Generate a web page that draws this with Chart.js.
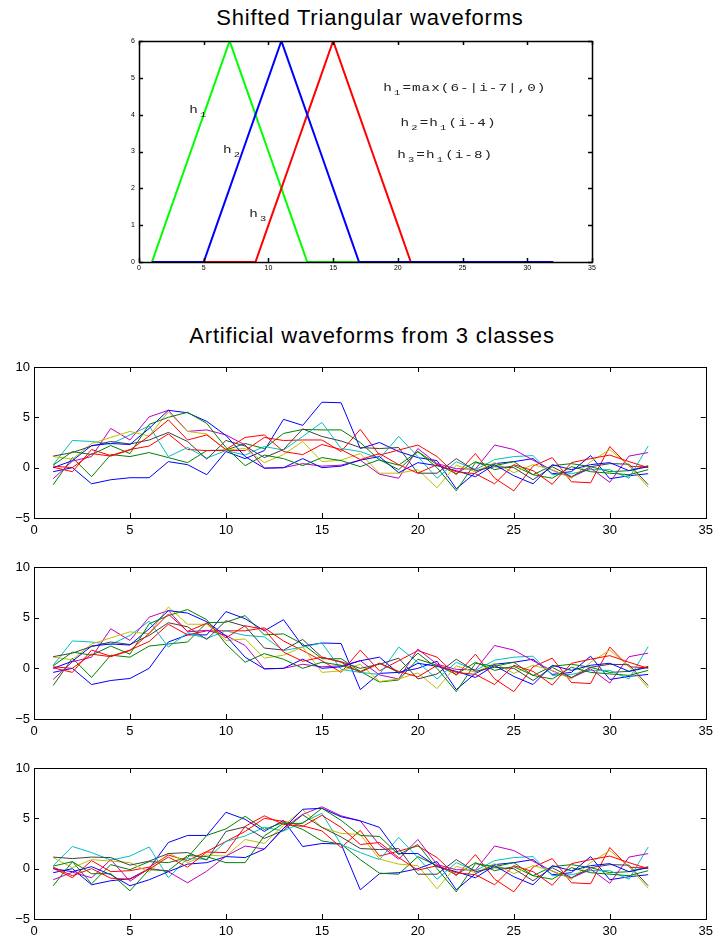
<!DOCTYPE html>
<html>
<head>
<meta charset="utf-8">
<script src="https://cdn.jsdelivr.net/npm/chart.js@4.4.0/dist/chart.umd.min.js"></script>
<style>
body{margin:0;background:#fff;width:715px;height:944px;position:relative;overflow:hidden;font-family:"Liberation Sans",Arial,sans-serif;}
canvas{position:absolute;left:0;}
.title{position:absolute;left:0;text-align:center;font-size:22px;line-height:26px;letter-spacing:0.8px;color:#000;white-space:nowrap;}
</style>
</head>
<body>
<div class="title" style="top:5px;width:740px;">Shifted Triangular waveforms</div>
<div class="title" style="top:323px;width:744px;">Artificial waveforms from 3 classes</div>
<canvas id="tri"></canvas>
<canvas id="p1"></canvas>
<canvas id="p2"></canvas>
<canvas id="p3"></canvas>
<script>
// sample index i = 1..32
var xs = [1,2,3,4,5,6,7,8,9,10,11,12,13,14,15,16,17,18,19,20,21,22,23,24,25,26,27,28,29,30,31,32];

// the three triangular waveforms
var h1 = [0,1,2,3,4,5,6,5,4,3,2,1,0,0,0,0,0,0,0,0,0,0,0,0,0,0,0,0,0,0,0,0];
var h2 = [0,0,0,0,0,1,2,3,4,5,6,5,4,3,2,1,0,0,0,0,0,0,0,0,0,0,0,0,0,0,0,0];
var h3 = [0,0,0,0,0,0,0,0,0,1,2,3,4,5,6,5,4,3,2,1,0,0,0,0,0,0,0,0,0,0,0,0];

// class 1
var c1w1  = [-0.4,0.0,-1.6,-1.2,-1.0,-1.0,0.6,0.3,-0.7,1.6,0.9,1.7,4.8,4.2,6.5,6.45,1.9,2.5,1.6,1.0,0.7,-2.1,-0.5,0.4,0.6,0.9,-0.6,-0.4,1.2,-1.1,-0.8,-0.6];
var c1w2  = [-1.7,1.0,-0.9,1.3,1.1,1.5,1.0,0.5,1.7,1.75,2.4,1.9,3.4,3.8,3.75,3.75,2.5,0.75,0.25,1.6,0.3,-0.6,0.6,-0.2,0.2,-0.7,0.2,0.4,0.1,-0.4,-0.3,0.2];
var c1w3  = [0.05,-0.4,1.8,1.2,1.8,2.15,3.35,1.8,1.7,1.7,1.7,3.0,2.7,2.75,2.75,1.6,3.8,1.25,1.75,2.25,1.1,-0.7,1.4,-1.05,-2.3,0.15,1.0,-1.4,-1.5,2.1,0.15,0.05];
var c1w4  = [0.3,2.7,2.6,2.35,3.25,4.15,1.1,2.0,0.95,1.7,1.25,2.1,1.75,3.1,4.5,1.9,1.6,0.9,3.1,1.1,-1.05,0.6,-0.2,0.8,1.1,1.2,-0.7,-0.6,-0.2,-0.2,-1.05,2.15];
var c1w5  = [-1.1,0.65,1.1,3.9,2.75,5.05,5.7,3.6,3.75,3.25,2.25,-0.05,0.0,0.4,0.15,0.25,0.75,-0.65,-1.05,1.9,0.4,-0.1,-0.15,2.25,1.8,0.75,-0.25,-0.95,-0.05,-1.45,1.15,1.5];
var c1w6  = [1.1,0.85,2.4,3.0,3.6,3.15,5.55,3.6,3.35,1.75,1.9,0.5,1.3,2.6,0.6,0.75,1.4,-0.55,-0.55,-0.2,-2.0,0.25,-0.4,0.5,-0.5,0.3,-0.2,-1.05,0.6,1.8,0.2,-1.95];
var c1w7  = [1.15,1.5,2.15,2.6,2.35,2.75,3.5,2.6,0.85,2.7,2.15,1.0,1.8,3.85,3.1,2.65,2.0,1.9,2.0,-0.55,-0.55,0.9,-0.3,0.1,0.0,-1.2,0.1,-0.9,0.1,0.4,0.35,-1.7];
var c1w8  = [0.0,0.7,2.2,2.4,2.3,3.9,5.7,5.45,4.6,3.2,1.1,-0.05,0.0,0.9,0.0,0.15,0.75,1.1,-0.5,0.5,0.2,-0.3,-0.9,0.3,-0.8,-1.6,0.3,-0.2,0.3,0.5,-0.3,0.1];
var c1w9  = [0.25,1.6,1.3,2.2,1.4,4.3,5.0,5.5,4.4,2.0,0.2,1.25,0.9,0.2,1.0,0.7,0.1,0.8,-0.2,1.6,0.0,-2.3,0.5,0.2,0.6,-0.7,-1.05,0.1,-0.4,-0.55,-0.7,-0.2];
var c1w10 = [0.15,0.0,1.4,1.15,1.75,3.15,4.75,2.75,3.25,1.8,3.0,3.25,1.6,1.3,2.3,1.8,0.8,1.4,0.3,-0.55,0.3,-0.4,-0.6,-1.6,0.3,-0.3,-1.65,0.5,0.9,1.25,0.6,0.0];

// class 2
var c2w1  = [-0.4,0.0,-1.6,-1.2,-1.0,0.0,2.6,3.3,3.3,5.6,4.9,3.7,4.8,2.2,2.5,2.45,-2.1,-0.5,-0.4,0.0,0.7,-2.1,-0.5,0.4,0.6,0.9,-0.6,-0.4,1.2,-1.1,-0.8,-0.6];
var c2w2  = [-1.7,1.0,-0.9,1.3,1.1,2.2,2.4,2.6,4.5,4.55,5.2,3.3,3.4,2.4,0.95,0.95,-0.3,-1.35,-1.15,0.9,0.3,-0.6,0.6,-0.2,0.2,-0.7,0.2,0.4,0.1,-0.4,-0.3,0.2];
var c2w3  = [0.05,-0.4,1.8,1.2,1.8,2.65,4.35,3.3,3.7,3.7,3.7,4.0,2.7,1.75,0.75,-0.4,1.8,-0.25,0.75,1.75,1.1,-0.7,1.4,-1.05,-2.3,0.15,1.0,-1.4,-1.5,2.1,0.15,0.05];
var c2w4  = [0.3,2.7,2.6,2.35,3.25,4.65,2.1,3.5,2.95,3.7,3.25,3.1,1.75,2.1,2.5,-0.1,-0.4,-0.6,2.1,0.6,-1.05,0.6,-0.2,0.8,1.1,1.2,-0.7,-0.6,-0.2,-0.2,-1.05,2.15];
var c2w5  = [-1.1,0.65,1.1,3.9,2.75,5.05,5.7,3.6,3.75,3.25,2.25,-0.05,0.0,0.4,0.15,0.25,0.75,-0.65,-1.05,1.9,0.4,-0.1,-0.15,2.25,1.8,0.75,-0.25,-0.95,-0.05,-1.45,1.15,1.5];
var c2w6  = [1.1,0.85,2.4,3.0,3.6,3.4,6.05,4.35,4.35,2.75,2.9,1.0,1.3,2.1,-0.4,-0.25,0.4,-1.3,-1.05,-0.45,-2.0,0.25,-0.4,0.5,-0.5,0.3,-0.2,-1.05,0.6,1.8,0.2,-1.95];
var c2w7  = [1.15,1.5,2.15,2.6,2.35,3.25,4.5,4.1,2.85,4.7,4.15,2.0,1.8,2.85,1.1,0.65,0.0,0.4,1.0,-1.05,-0.55,0.9,-0.3,0.1,0.0,-1.2,0.1,-0.9,0.1,0.4,0.35,-1.7];
var c2w8  = [0.0,0.7,2.2,2.4,2.3,3.9,5.7,5.45,4.6,3.2,1.1,-0.05,0.0,0.9,0.0,0.15,0.75,1.1,-0.5,0.5,0.2,-0.3,-0.9,0.3,-0.8,-1.6,0.3,-0.2,0.3,0.5,-0.3,0.1];
var c2w9  = [0.25,1.6,1.3,2.2,1.4,4.4,5.2,5.8,4.8,2.4,0.6,1.45,0.9,0.0,0.6,0.3,-0.3,0.5,-0.4,1.5,0.0,-2.3,0.5,0.2,0.6,-0.7,-1.05,0.1,-0.4,-0.55,-0.7,-0.2];
var c2w10 = [0.15,0.0,1.4,1.15,1.75,3.45,5.35,3.65,4.45,3.0,4.2,3.85,1.6,0.7,1.1,0.6,-0.4,0.5,-0.3,-0.85,0.3,-0.4,-0.6,-1.6,0.3,-0.3,-1.65,0.5,0.9,1.25,0.6,0.0];

// class 3
var c3w1  = [-0.4,0.0,-1.6,-1.2,-1.0,0.0,2.6,3.3,3.3,5.6,4.9,3.7,4.8,2.2,2.5,2.45,-2.1,-0.5,-0.4,0.0,0.7,-2.1,-0.5,0.4,0.6,0.9,-0.6,-0.4,1.2,-1.1,-0.8,-0.6];
var c3w2  = [-1.7,0.7,-1.5,0.4,-0.1,0.7,0.6,1.1,3.3,3.95,5.2,3.9,4.6,3.9,2.75,2.45,0.9,-0.45,-0.55,1.2,0.3,-0.6,0.6,-0.2,0.2,-0.7,0.2,0.4,0.1,-0.4,-0.3,0.2];
var c3w3  = [0.05,-0.9,0.8,-0.3,-0.2,0.15,1.35,0.8,1.7,2.7,3.7,5.0,4.7,4.25,3.75,2.1,3.8,1.25,1.75,2.25,1.1,-0.7,1.4,-1.05,-2.3,0.15,1.0,-1.4,-1.5,2.1,0.15,0.05];
var c3w4  = [0.3,2.2,1.6,0.85,1.25,2.15,-0.9,1.0,0.95,2.7,3.25,4.1,3.75,4.6,5.5,2.4,1.6,0.9,3.1,1.1,-1.05,0.6,-0.2,0.8,1.1,1.2,-0.7,-0.6,-0.2,-0.2,-1.05,2.15];
var c3w5  = [-1.1,-0.35,-0.9,0.9,-1.25,0.05,-0.3,-1.4,-0.25,1.25,2.25,1.95,4.0,5.4,6.15,5.25,4.75,2.35,0.95,2.9,0.4,-0.1,-0.15,2.25,1.8,0.75,-0.25,-0.95,-0.05,-1.45,1.15,1.5];
var c3w6  = [1.1,0.1,0.9,0.75,0.6,-0.35,1.55,0.6,1.35,1.25,2.9,2.5,4.3,5.85,4.1,3.5,3.4,0.95,0.45,0.3,-2.0,0.25,-0.4,0.5,-0.5,0.3,-0.2,-1.05,0.6,1.8,0.2,-1.95];
var c3w7  = [1.15,1.0,1.15,1.1,0.35,0.75,1.5,1.6,0.85,3.7,4.15,3.0,3.8,5.35,4.1,3.15,2.0,1.9,2.0,-0.55,-0.55,0.9,-0.3,0.1,0.0,-1.2,0.1,-0.9,0.1,0.4,0.35,-1.7];
var c3w8  = [0.0,-0.3,0.2,-0.6,-1.7,-1.1,-0.3,0.45,0.6,1.2,1.1,1.95,4.0,5.9,6.0,5.15,4.75,4.1,1.5,1.5,0.2,-0.3,-0.9,0.3,-0.8,-1.6,0.3,-0.2,0.3,0.5,-0.3,0.1];
var c3w9  = [0.25,0.7,-0.5,-0.5,-2.2,-0.1,-0.2,1.3,1.2,0.6,0.6,3.25,4.5,4.5,6.0,4.8,3.3,3.2,1.4,2.4,0.0,-2.3,0.5,0.2,0.6,-0.7,-1.05,0.1,-0.4,-0.55,-0.7,-0.2];
var c3w10 = [0.15,-0.7,0.0,-0.95,-1.05,-0.05,1.15,0.15,1.65,1.6,4.2,5.25,4.4,4.2,5.3,4.1,2.4,2.6,1.1,-0.15,0.3,-0.4,-0.6,-1.6,0.3,-0.3,-1.65,0.5,0.9,1.25,0.6,0.0];

var xTicks = [0,5,10,15,20,25,30,35];
var yTicksTri = [0,1,2,3,4,5,6];
var yTicksWave = [-5,0,5,10];

// matlab colour order
var lineColors = ['#0000ff','#008000','#ff0000','#00bfbf','#bf00bf','#bfbf00','#404040','#0000ff','#008000','#ff0000'];

function pts(ys){
	return ys.map(function(v,i){ return {x: xs[i], y: v}; });
}

// box round the plot area, ticks pointing inwards on all four sides
var boxTicks = {
	id: 'boxTicks',
	afterDatasetsDraw: function(chart, args, opts){
		var ctx = chart.ctx, a = chart.chartArea;
		var sx = chart.scales.x, sy = chart.scales.y;
		var len = opts.len || 5;
		ctx.save();
		ctx.strokeStyle = '#000';
		ctx.lineWidth = opts.width || 1;
		ctx.beginPath();
		sx.ticks.forEach(function(t){
			var p = Math.round(sx.getPixelForValue(t.value)) + 0.5;
			ctx.moveTo(p, a.bottom); ctx.lineTo(p, a.bottom - len);
			ctx.moveTo(p, a.top); ctx.lineTo(p, a.top + len);
		});
		sy.ticks.forEach(function(t){
			var p = Math.round(sy.getPixelForValue(t.value)) + 0.5;
			ctx.moveTo(a.left, p); ctx.lineTo(a.left + len, p);
			ctx.moveTo(a.right, p); ctx.lineTo(a.right - len, p);
		});
		ctx.stroke();
		ctx.strokeRect(Math.round(a.left) + 0.5, Math.round(a.top) + 0.5, Math.round(a.right - a.left), Math.round(a.bottom - a.top));
		ctx.restore();
	}
};

// little courier labels on the triangle plot ('_' = next char is a subscript)
var triNotes = [
	{x: 3.87, y: 4.04, s: 'h_1'},
	{x: 6.47, y: 2.96, s: 'h_2'},
	{x: 8.51, y: 1.21, s: 'h_3'},
	{x: 18.85, y: 4.64, s: 'h_1=max(6-|i-7|,0)'},
	{x: 20.19, y: 3.69, s: 'h_2=h_1(i-4)'},
	{x: 19.93, y: 2.82, s: 'h_3=h_1(i-8)'}
];

var notesPlugin = {
	id: 'notes',
	afterDraw: function(chart){
		var ctx = chart.ctx, sx = chart.scales.x, sy = chart.scales.y;
		ctx.save();
		ctx.fillStyle = '#222';
		ctx.textAlign = 'center';
		ctx.textBaseline = 'alphabetic';
		triNotes.forEach(function(n){
			var x0 = sx.getPixelForValue(n.x), y0 = sy.getPixelForValue(n.y);
			var k = 0;
			for (var i = 0; i < n.s.length; i++) {
				var ch = n.s[i], sub = false;
				if (ch === '_') { sub = true; ch = n.s[++i]; }
				ctx.save();
				ctx.translate(x0 + k * 9.6 + 4.5, y0 + (sub ? 4 : 0));
				ctx.scale(1.3, 1);
				ctx.font = sub ? '8px "Liberation Mono"' : '11px "Liberation Mono"';
				ctx.fillText(ch, 0, 0);
				ctx.restore();
				k++;
			}
		});
		ctx.restore();
	}
};

function fixTicks(list){
	return function(scale){
		scale.ticks = list.map(function(v){ return {value: v}; });
	};
}

function minusLabel(v){
	return v < 0 ? '\u2212' + Math.abs(v) : String(v);
}

// ---- top: shifted triangles ----
var triCanvas = document.getElementById('tri');
triCanvas.style.top = '25px';
triCanvas.width = 715; triCanvas.height = 255;
new Chart(triCanvas, {
	type: 'line',
	data: {
		datasets: [
			{data: pts(h2), borderColor: '#0000ff', borderWidth: 2, pointRadius: 0, order: 0},
			{data: pts(h3), borderColor: '#ff0000', borderWidth: 2, pointRadius: 0, order: 1},
			{data: pts(h1), borderColor: '#00ff00', borderWidth: 2, pointRadius: 0, order: 2}
		]
	},
	options: {
		responsive: false,
		animation: false,
		layout: {padding: {top: 16, right: 123, left: 0, bottom: 0}},
		plugins: {legend: {display: false}, tooltip: {enabled: false}, boxTicks: {len: 4, width: 1.5}},
		scales: {
			x: {
				type: 'linear', min: 0, max: 35,
				afterBuildTicks: fixTicks(xTicks),
				afterFit: function(s){ s.height = 18; },
				grid: {display: false, drawTicks: false},
				border: {display: false},
				ticks: {font: {size: 7, family: 'Liberation Sans'}, color: '#000', padding: 2, maxRotation: 0}
			},
			y: {
				min: 0, max: 6,
				afterBuildTicks: fixTicks(yTicksTri),
				afterFit: function(s){ s.width = 139; },
				grid: {display: false, drawTicks: false},
				border: {display: false},
				ticks: {font: {size: 7, family: 'Liberation Sans'}, color: '#000', padding: 4}
			}
		}
	},
	plugins: [boxTicks, notesPlugin]
});

// ---- three class panels ----
function panel(id, areaTop, areaBottom, waves){
	var cv = document.getElementById(id);
	var h = 12 + (areaBottom - areaTop) + 26;
	cv.style.top = (areaTop - 12) + 'px';
	cv.width = 718; cv.height = h;
	var sets = waves.map(function(w, i){
		return {data: pts(w), borderColor: lineColors[i], borderWidth: 1, pointRadius: 0, tension: 0, order: waves.length - i};
	});
	new Chart(cv, {
		type: 'line',
		data: {datasets: sets},
		options: {
			responsive: false,
			animation: false,
			layout: {padding: {top: 12, right: 8, left: 0, bottom: 0}},
			plugins: {legend: {display: false}, tooltip: {enabled: false}, boxTicks: {len: 5, width: 1}},
			scales: {
				x: {
					type: 'linear', min: 0, max: 35,
					afterBuildTicks: fixTicks(xTicks),
					afterFit: function(s){ s.height = 26; },
					grid: {display: false, drawTicks: false},
					border: {display: false},
					ticks: {font: {size: 13, family: 'Liberation Sans'}, color: '#000', padding: 5, maxRotation: 0}
				},
				y: {
					min: -5, max: 10,
					afterBuildTicks: fixTicks(yTicksWave),
					afterFit: function(s){ s.width = 34; },
					grid: {display: false, drawTicks: false},
					border: {display: false},
					ticks: {font: {size: 13, family: 'Liberation Sans'}, color: '#000', padding: 4, callback: minusLabel}
				}
			}
		},
		plugins: [boxTicks]
	});
}

panel('p1', 367, 518, [c1w1,c1w2,c1w3,c1w4,c1w5,c1w6,c1w7,c1w8,c1w9,c1w10]);
panel('p2', 567, 719, [c2w1,c2w2,c2w3,c2w4,c2w5,c2w6,c2w7,c2w8,c2w9,c2w10]);
panel('p3', 768, 919, [c3w1,c3w2,c3w3,c3w4,c3w5,c3w6,c3w7,c3w8,c3w9,c3w10]);
</script>
</body>
</html>
